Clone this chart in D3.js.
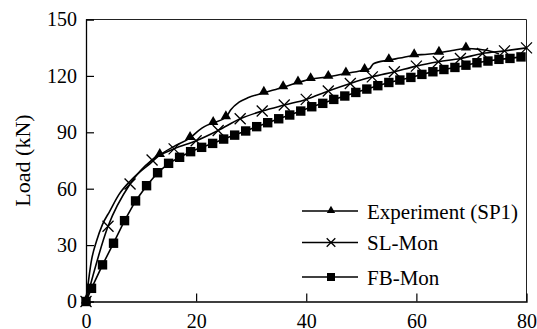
<!DOCTYPE html>
<html><head><meta charset="utf-8">
<script src="https://cdn.jsdelivr.net/npm/d3@7"></script>
<style>body{margin:0;background:#fff}svg{display:block}text{font-family:"Liberation Serif","Times New Roman",serif;fill:#000}</style>
</head><body><svg id="c" width="537" height="329"></svg>
<script>
const xTicks = [0, 20, 40, 60, 80];
const yTicks = [0, 30, 60, 90, 120, 150];
const seriesNames = ["Experiment (SP1)", "SL-Mon", "FB-Mon"];

// Experiment (SP1): full curve, markers at selected indices
const expDisp = [0, 1, 1.9, 3, 4.3, 6, 8, 10, 11.7, 13.4, 16, 18.9, 20.5, 21.5, 23.1, 25.4, 26.3, 27.8, 29.5, 32.3, 35.8, 38.5, 40.8, 44, 47.2, 50.6, 51.5, 52.2, 55, 57, 59.6, 62, 64.1, 66.5, 69, 71.5, 73.9, 75];
const expLoad = [0, 22, 32, 41, 48, 57, 64, 69.5, 73.5, 77.9, 82.5, 87, 91, 93, 95, 98, 102, 106, 108.5, 111, 114, 116.5, 118.3, 119.5, 121.3, 123.1, 123.8, 126.5, 128.4, 129.5, 131, 131.5, 132.3, 133.5, 134.6, 134.1, 132.8, 131.6];
const expMarkerIdx = [0, 9, 11, 14, 15, 19, 20, 21, 22, 23, 24, 25, 28, 30, 32, 34];

// SL-Mon
const slDisp = [0, 4, 8, 12, 16, 20, 24, 28, 32, 36, 40, 44, 48, 52, 56, 60, 64, 68, 72, 76, 80];
const slLoad = [0, 40, 62.5, 75.3, 81.2, 85.5, 91, 97.2, 101.3, 104.5, 107.5, 112, 116, 119.5, 122.2, 125.2, 127.5, 129.3, 131.9, 133.3, 134.9];

// FB-Mon
const fbDisp = [0, 1, 3, 5, 7, 9, 11, 13, 15, 17, 19, 21, 23, 25, 27, 29, 31, 33, 35, 37, 39, 41, 43, 45, 47, 49, 51, 53, 55, 57, 59, 61, 63, 65, 67, 69, 71, 73, 75, 77, 79];
const fbLoad = [0, 7, 19.5, 31, 43, 53.5, 61.6, 68.5, 73.5, 76.7, 79.7, 82, 84.1, 86.4, 88.5, 90.7, 93, 95.1, 97.2, 99.2, 101.3, 103.6, 105.4, 107.5, 109.3, 111.2, 113, 114.8, 116.5, 117.8, 119.2, 120.8, 122.2, 123.4, 124.5, 125.7, 127, 127.9, 128.8, 129.3, 130.1];

const svg = d3.select("#c");
const L = 86, R = 526.5, T = 19.5, B = 301.5;
const x = d3.scaleLinear().domain([0, 80]).range([L, R]);
const y = d3.scaleLinear().domain([0, 150]).range([B, T]);
const serif = '"Liberation Serif","Times New Roman",serif';

// frame (top, right)
svg.append("path").attr("d", `M${L},${T}H${R}V${B}`).attr("fill", "none").attr("stroke", "#222").attr("stroke-width", 1);

const xAxis = svg.append("g").attr("transform", `translate(0,${B})`)
  .call(d3.axisBottom(x).tickValues(xTicks).tickSize(-8).tickPadding(12.5).tickFormat(d3.format("d")));
const yAxis = svg.append("g").attr("transform", `translate(${L},0)`)
  .call(d3.axisLeft(y).tickValues(yTicks).tickSize(-8).tickPadding(9).tickFormat(d3.format("d")));
[xAxis, yAxis].forEach(a => {
  a.attr("font-family", serif);
  a.select(".domain").attr("stroke", "#000").attr("stroke-width", 1.3);
  a.selectAll(".tick line").attr("stroke", "#000").attr("stroke-width", 1.2);
  a.selectAll(".tick text").style("font-size", "20px").attr("fill", "#000").style("font-family", serif);
});
xAxis.selectAll(".tick").filter(d => d === 0 || d === 80).select("line").remove();
yAxis.selectAll(".tick").filter(d => d === 0 || d === 150).select("line").remove();

svg.append("text").attr("transform", `translate(29.5,${(T + B) / 2}) rotate(-90)`)
  .attr("text-anchor", "middle").style("font-size", "22px").style("font-family", serif).text("Load (kN)");

const expPts = expDisp.map((d, i) => [d, expLoad[i]]);
const slPts = slDisp.map((d, i) => [d, slLoad[i]]);
const fbPts = fbDisp.map((d, i) => [d, fbLoad[i]]);
const mkLine = c => d3.line().x(d => x(d[0])).y(d => y(d[1])).curve(c);

svg.append("path").attr("d", mkLine(d3.curveLinear)(fbPts)).attr("fill", "none").attr("stroke", "#000").attr("stroke-width", 1.6);
svg.append("path").attr("d", mkLine(d3.curveMonotoneX)(slPts)).attr("fill", "none").attr("stroke", "#000").attr("stroke-width", 1.6);
svg.append("path").attr("d", mkLine(d3.curveMonotoneX)(expPts)).attr("fill", "none").attr("stroke", "#000").attr("stroke-width", 1.6);

const tri = d3.symbol().type(d3.symbolTriangle);
function drawTri(g, px, py, s) { g.append("path").attr("d", tri.size(s)()).attr("transform", `translate(${px},${py - 1})`).attr("fill", "#000"); }
function drawX(g, px, py, h) { g.append("path").attr("d", `M${px - h},${py - h}L${px + h},${py + h}M${px - h},${py + h}L${px + h},${py - h}`).attr("stroke", "#000").attr("stroke-width", 1.3); }
function drawSq(g, px, py, h) { g.append("rect").attr("x", px - h).attr("y", py - h).attr("width", 2 * h).attr("height", 2 * h).attr("fill", "#000"); }

const mk = svg.append("g");
fbPts.forEach(p => drawSq(mk, x(p[0]), y(p[1]), 4.7));
slPts.forEach(p => drawX(mk, x(p[0]), y(p[1]), 5.5));
expMarkerIdx.forEach(i => drawTri(mk, x(expPts[i][0]), y(expPts[i][1]), 46));

// legend
const lg = svg.append("g");
const rows = [211, 242.5, 277];
rows.forEach((ry, i) => {
  lg.append("line").attr("x1", 302).attr("x2", 358).attr("y1", ry).attr("y2", ry).attr("stroke", "#000").attr("stroke-width", 1.6);
  if (i === 0) drawTri(lg, 331, ry + 0.5, 30);
  if (i === 1) drawX(lg, 331, ry, 4.3);
  if (i === 2) drawSq(lg, 331, ry, 4);
  lg.append("text").attr("x", 367).attr("y", ry + 7.5).style("font-size", "21px").style("font-family", serif).text(seriesNames[i]);
});
</script></body></html>
